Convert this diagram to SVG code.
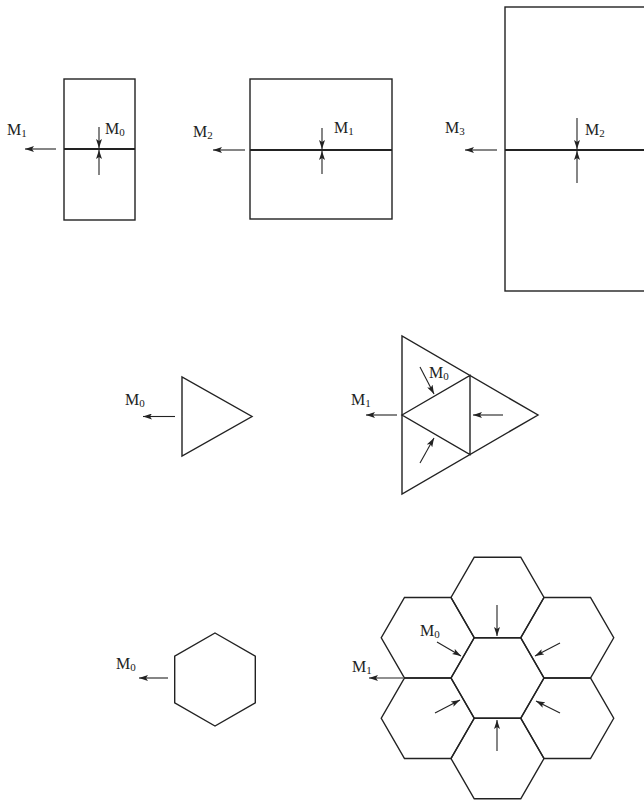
<svg xmlns="http://www.w3.org/2000/svg" width="644" height="802" viewBox="0 0 644 802">
<defs>
<style>
.s{fill:none;stroke:#222;stroke-width:1.4;stroke-linejoin:miter}
.m{fill:none;stroke:#222;stroke-width:2.2}
.a{fill:none;stroke:#222;stroke-width:1.1;marker-end:url(#ah)}
text{font-family:"Liberation Serif","Times New Roman",serif;font-size:16px;fill:#222}
.sub{font-size:11px}
</style>
<marker id="ah" markerUnits="userSpaceOnUse" markerWidth="9" markerHeight="6" refX="9" refY="3" orient="auto">
<path d="M0,0 L9,3 L0,6 L2,3 z" fill="#222"/>
</marker>
<polygon id="hx" points="46.5,0 23.25,40.27 -23.25,40.27 -46.5,0 -23.25,-40.27 23.25,-40.27"/>
</defs>
<rect width="644" height="802" fill="#fff"/>

<g id="rect1">
<rect class="s" x="64" y="79" width="71" height="141"/>
<line class="m" x1="64" y1="149" x2="135" y2="149"/>
<text x="7" y="135">M<tspan class="sub" dy="2">1</tspan></text>
<text x="105" y="134">M<tspan class="sub" dy="2">0</tspan></text>
</g>
<g id="rect2">
<rect class="s" x="250" y="79" width="142" height="140"/>
<line class="m" x1="250" y1="150" x2="392" y2="150"/>
<text x="193" y="137">M<tspan class="sub" dy="2">2</tspan></text>
<text x="334" y="133">M<tspan class="sub" dy="2">1</tspan></text>
</g>
<g id="rect3">
<rect class="s" x="505" y="7" width="150" height="284"/>
<line class="m" x1="505" y1="150" x2="644" y2="150"/>
<text x="445" y="133">M<tspan class="sub" dy="2">3</tspan></text>
<text x="585" y="135">M<tspan class="sub" dy="2">2</tspan></text>
</g>

<g id="tri1">
<polygon class="s" points="182,377 182,456 252,416.5"/>
<text x="125" y="405">M<tspan class="sub" dy="2">0</tspan></text>
</g>
<g id="tri2">
<polygon class="s" points="402,336 402,494 538,415"/>
<polygon class="s" points="402,415 470,375.5 470,454.5"/>
<text x="351" y="405">M<tspan class="sub" dy="2">1</tspan></text>
<text x="429" y="378">M<tspan class="sub" dy="2">0</tspan></text>
</g>

<g id="hex1">
<polygon class="s" points="215,633 255.3,656.25 255.3,702.75 215,726 174.7,702.75 174.7,656.25"/>
<text x="116" y="669">M<tspan class="sub" dy="2">0</tspan></text>
</g>

<g id="hexcluster">
<use href="#hx" class="s" x="497.5" y="678"/>
<use href="#hx" class="s" x="497.5" y="597.5"/>
<use href="#hx" class="s" x="497.5" y="758.5"/>
<use href="#hx" class="s" x="427.75" y="637.75"/>
<use href="#hx" class="s" x="567.25" y="637.75"/>
<use href="#hx" class="s" x="427.75" y="718.25"/>
<use href="#hx" class="s" x="567.25" y="718.25"/>
<text x="420" y="636">M<tspan class="sub" dy="2">0</tspan></text>
<text x="352" y="672">M<tspan class="sub" dy="2">1</tspan></text>
</g>

<g id="connectors">
<line class="a" x1="56" y1="149" x2="25" y2="149"/>
<line class="a" x1="99" y1="127" x2="99" y2="148"/>
<line class="a" x1="99" y1="175" x2="99" y2="150"/>
<line class="a" x1="245" y1="150" x2="213" y2="150"/>
<line class="a" x1="322" y1="128" x2="322" y2="149"/>
<line class="a" x1="322" y1="174" x2="322" y2="151"/>
<line class="a" x1="497" y1="150" x2="465" y2="150"/>
<line class="a" x1="577" y1="118" x2="577" y2="149"/>
<line class="a" x1="577" y1="183" x2="577" y2="151"/>

<line class="a" x1="175" y1="416.5" x2="143" y2="416.5"/>
<line class="a" x1="397" y1="415" x2="366" y2="415"/>
<line class="a" x1="420" y1="367" x2="434" y2="394"/>
<line class="a" x1="503" y1="415" x2="473" y2="415"/>
<line class="a" x1="420" y1="463" x2="434" y2="438"/>

<line class="a" x1="168" y1="678" x2="139" y2="678"/>

<line class="a" x1="403" y1="678" x2="369" y2="678"/>
<line class="a" x1="497" y1="605" x2="497" y2="636"/>
<line class="a" x1="560" y1="643" x2="535" y2="656"/>
<line class="a" x1="437" y1="642" x2="461" y2="656"/>
<line class="a" x1="435" y1="713" x2="460" y2="700"/>
<line class="a" x1="560" y1="713" x2="536" y2="701"/>
<line class="a" x1="497" y1="751" x2="497" y2="720"/>
</g>
</svg>
